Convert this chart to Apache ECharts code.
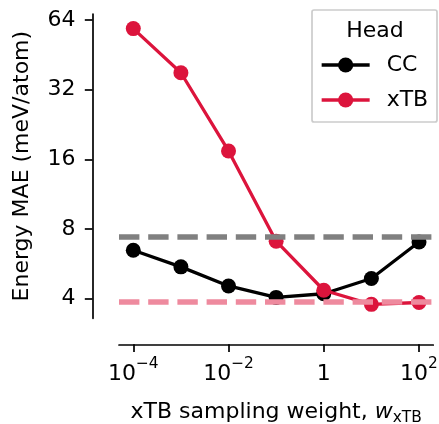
<!DOCTYPE html>
<html>
<head>
<meta charset="utf-8">
<script src="https://cdn.jsdelivr.net/npm/echarts@6/dist/echarts.min.js"></script>
<style>
html,body{margin:0;padding:0;background:#fff;}
#main{width:439px;height:424px;}
</style>
</head>
<body>
<div id="main"></div>
<script>
// sampling weights w_xTB and energy MAE (meV/atom)
var weights=[1e-4,1e-3,1e-2,1e-1,1,10,100];
var ccMae=[6.48,5.49,4.54,4.05,4.2,4.89,7.03];
var xtbMae=[58.8,37.9,17.4,7.09,4.35,3.78,3.85];
// dashed reference levels
var ccRef=7.4;
var xtbRef=3.86;
// axis ticks
var xTickExps=[-4,-2,0,2];
var yTicks=[4,8,16,32,64];
var xMinExp=-4.3, xMaxExp=2.3;
var yMin=3.29, yMax=68;

var FONT='DejaVu Sans';
var RED='#dc143c';

function toPoints(ys){
	var pts=[];
	for(var i=0;i<weights.length;i++){
		pts.push([Math.log10(weights[i]),Math.log2(ys[i])]);
	}
	return pts;
}

var log2Ticks=[];
for(var i=0;i<yTicks.length;i++) log2Ticks.push(Math.log2(yTicks[i]));

var myChart=echarts.init(document.getElementById('main'),null,{renderer:'canvas'});
var option={
	animation:false,
	backgroundColor:'#fff',
	textStyle:{fontFamily:FONT},
	grid:{left:119,top:14,width:314.3,height:304.3,containLabel:false,outerBoundsMode:'none'},
	xAxis:{
		type:'value',
		min:xMinExp,
		max:xMaxExp,
		offset:26,
		splitLine:{show:false},
		axisLine:{onZero:false,lineStyle:{color:'#000',width:1.7}},
		axisTick:{customValues:xTickExps,length:7.7,lineStyle:{color:'#000',width:1.7}},
		axisLabel:{
			customValues:xTickExps,
			margin:12,
			color:'#000',
			formatter:function(v){
				if(Math.abs(v)<1e-9) return '{b|1}';
				return '{b|10}{s|'+(v<0?'\u2212':'')+Math.abs(v)+'}';
			},
			rich:{
				b:{fontSize:22,lineHeight:36,fontFamily:FONT,color:'#000'},
				s:{fontSize:15.4,padding:[0,0,20,0],fontFamily:FONT,color:'#000'}
			}
		},
		name:'{a|xTB sampling weight, }{i|w}{sub|xTB}',
		nameLocation:'middle',
		nameGap:54,
		nameTextStyle:{
			color:'#000',
			rich:{
				a:{fontSize:22,fontFamily:FONT,color:'#000'},
				i:{fontSize:22,fontStyle:'italic',fontFamily:FONT,color:'#000'},
				sub:{fontSize:15.4,padding:[12,0,0,0],fontFamily:FONT,color:'#000'}
			}
		}
	},
	yAxis:{
		type:'value',
		min:Math.log2(yMin),
		max:Math.log2(yMax),
		offset:26.5,
		splitLine:{show:false},
		axisLine:{onZero:false,lineStyle:{color:'#000',width:1.7}},
		axisTick:{customValues:log2Ticks,length:7.7,lineStyle:{color:'#000',width:1.7}},
		axisLabel:{
			customValues:log2Ticks,
			margin:17,
			fontSize:22,
			color:'#000',
			fontFamily:FONT,
			formatter:function(v){return String(Math.round(Math.pow(2,v)));}
		},
		name:'Energy MAE (meV/atom)',
		nameLocation:'middle',
		nameGap:59,
		nameTextStyle:{fontSize:22,color:'#000',fontFamily:FONT}
	},
	legend:{
		data:['CC','xTB'],
		orient:'vertical',
		left:320,
		top:54,
		padding:0,
		z:60,
		itemWidth:48,
		itemHeight:19,
		itemGap:13,
		lineStyle:{width:3.3},
		textStyle:{fontSize:22,color:'#000',fontFamily:FONT,padding:[0,0,0,12]}
	},
	graphic:[
		{type:'rect',shape:{x:312,y:10,width:125,height:112,r:2},
			style:{fill:'rgba(255,255,255,0.8)',stroke:'#cccccc',lineWidth:1.7},z:5},
		{type:'text',x:375,y:31,style:{text:'Head',font:'22px "DejaVu Sans"',fill:'#000',
			textAlign:'center',textVerticalAlign:'middle'},z:61}
	],
	series:[
		{
			name:'ccRef',type:'line',data:[],z:1,
			markLine:{silent:true,symbol:'none',label:{show:false},
				lineStyle:{color:'#808080',width:5.5,type:[20.4,8.8]},
				data:[{yAxis:Math.log2(ccRef)}]}
		},
		{
			name:'xtbRef',type:'line',data:[],z:1,
			markLine:{silent:true,symbol:'none',label:{show:false},
				lineStyle:{color:'#ee8a9e',width:5.5,type:[20.4,8.8]},
				data:[{yAxis:Math.log2(xtbRef)}]}
		},
		{
			name:'CC',type:'line',z:3,
			data:toPoints(ccMae),
			symbol:'circle',symbolSize:15,
			lineStyle:{color:'#000',width:3.3},
			itemStyle:{color:'#000'}
		},
		{
			name:'xTB',type:'line',z:4,
			data:toPoints(xtbMae),
			symbol:'circle',symbolSize:15,
			lineStyle:{color:RED,width:3.3},
			itemStyle:{color:RED}
		}
	]
};
myChart.setOption(option);
</script>
</body>
</html>
